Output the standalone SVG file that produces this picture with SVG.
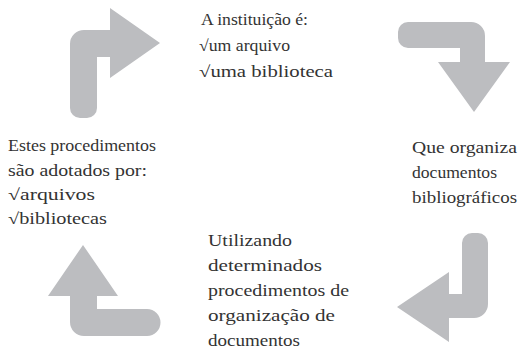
<svg xmlns="http://www.w3.org/2000/svg" width="524" height="352" viewBox="0 0 524 352">
  <style>
    .arrow { fill: #bcbdc0; stroke: none; }
    .t { font-family: "Liberation Serif", "DejaVu Serif", serif; font-size: 16px; fill: #333333; }
  </style>
  <rect width="524" height="352" fill="#ffffff"/>
  <g id="connectors">
    <path class="arrow" d="M70,108 V44 A14,14 0 0 1 84,30 H110 V8 L160,43 L110,78 V57 H97 V108 A10,10 0 0 1 87,118 H80 A10,10 0 0 1 70,108 Z"/>
    <path class="arrow" d="M408,48 A10,10 0 0 1 398,38 V32 A10,10 0 0 1 408,22 H471 A14,14 0 0 1 485,36 V62 H510 L474,112 L438,62 H460 V48 Z"/>
    <path class="arrow" d="M462,243 A10,10 0 0 1 472,233 H478 A10,10 0 0 1 488,243 V304 A14,14 0 0 1 474,318 H449 V342 L397,307 L449,272 V294 H462 Z"/>
    <path class="arrow" d="M83,245 L118,296 H97 V309 H147 A13.5,13.5 0 0 1 147,336 H84 A14,14 0 0 1 70,322 V296 H48 Z"/>
  </g>
  <g id="node-instituicao">
    <text class="t" x="201" y="25" textLength="107" lengthAdjust="spacingAndGlyphs">A instituição é:</text>
    <text class="t" x="199" y="51" textLength="91" lengthAdjust="spacingAndGlyphs">√um arquivo</text>
    <text class="t" x="199" y="77" textLength="134" lengthAdjust="spacingAndGlyphs">√uma biblioteca</text>
  </g>
  <g id="node-organiza">
    <text class="t" x="412" y="153" textLength="105" lengthAdjust="spacingAndGlyphs">Que organiza</text>
    <text class="t" x="412" y="178" textLength="85" lengthAdjust="spacingAndGlyphs">documentos</text>
    <text class="t" x="412" y="203" textLength="105" lengthAdjust="spacingAndGlyphs">bibliográficos</text>
  </g>
  <g id="node-utilizando">
    <text class="t" x="208" y="246" textLength="84" lengthAdjust="spacingAndGlyphs">Utilizando</text>
    <text class="t" x="208" y="271" textLength="114" lengthAdjust="spacingAndGlyphs">determinados</text>
    <text class="t" x="208" y="296" textLength="141" lengthAdjust="spacingAndGlyphs">procedimentos de</text>
    <text class="t" x="208" y="321" textLength="127" lengthAdjust="spacingAndGlyphs">organização de</text>
    <text class="t" x="208" y="346" textLength="92" lengthAdjust="spacingAndGlyphs">documentos</text>
  </g>
  <g id="node-procedimentos">
    <text class="t" x="8" y="151" textLength="148" lengthAdjust="spacingAndGlyphs">Estes procedimentos</text>
    <text class="t" x="8" y="176" textLength="139" lengthAdjust="spacingAndGlyphs">são adotados por:</text>
    <text class="t" x="8" y="200" textLength="87" lengthAdjust="spacingAndGlyphs">√arquivos</text>
    <text class="t" x="8" y="224" textLength="99" lengthAdjust="spacingAndGlyphs">√bibliotecas</text>
  </g>
</svg>
